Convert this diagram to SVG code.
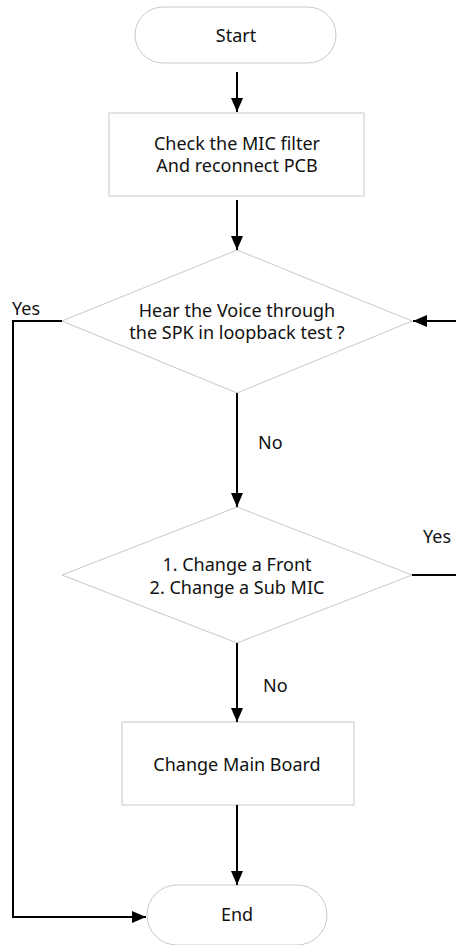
<svg xmlns="http://www.w3.org/2000/svg" width="456" height="945" viewBox="0 0 456 945">
<style>
.shape{fill:#fff;stroke:#c8c8c8;stroke-width:1}
.t{font-family:"Noto Sans","Open Sans",sans-serif;font-size:18px;fill:#111;text-anchor:middle}
.l{font-family:"Noto Sans","Open Sans",sans-serif;font-size:18px;fill:#111}
.c{fill:none;stroke:#000;stroke-width:2}
</style>
<defs>
<marker id="ah" markerWidth="14" markerHeight="14" viewBox="0 0 14 14" refX="14" refY="7" orient="auto" markerUnits="userSpaceOnUse">
<path d="M0,1 L14,7 L0,13 Z" fill="#000"/>
</marker>
</defs>
<rect width="456" height="945" fill="#fff"/>
<g id="start"><rect class="shape" x="135" y="7" width="201" height="56" rx="28"/><text class="t" x="236" y="42">Start</text></g>
<g id="check"><rect class="shape" x="109" y="113" width="255" height="83"/><text class="t" x="237" y="150">Check the MIC filter</text><text class="t" x="237" y="172">And reconnect PCB</text></g>
<g id="hear"><polygon class="shape" points="237,250 412,321 237,393 62,321"/><text class="t" x="237" y="317">Hear the Voice through</text><text class="t" x="237" y="339">the SPK in loopback test ?</text></g>
<g id="change"><polygon class="shape" points="237,507 412,575 237,643 62,575"/><text class="t" x="237" y="571">1. Change a Front</text><text class="t" x="237" y="594">2. Change a Sub MIC</text></g>
<g id="mainboard"><rect class="shape" x="122" y="722" width="232" height="83"/><text class="t" x="237" y="771">Change Main Board</text></g>
<g id="end"><rect class="shape" x="147" y="885" width="180" height="60" rx="30"/><text class="t" x="237" y="921">End</text></g>
<g id="connectors">
<line class="c" x1="237" y1="72" x2="237" y2="112" marker-end="url(#ah)"/>
<line class="c" x1="237" y1="200" x2="237" y2="250" marker-end="url(#ah)"/>
<line class="c" x1="237" y1="393" x2="237" y2="507" marker-end="url(#ah)"/>
<line class="c" x1="237" y1="643" x2="237" y2="722" marker-end="url(#ah)"/>
<line class="c" x1="237" y1="805" x2="237" y2="885" marker-end="url(#ah)"/>
<polyline class="c" points="62,321 13,321 13,917 146,917" marker-end="url(#ah)"/>
<line class="c" x1="456" y1="321" x2="413" y2="321" marker-end="url(#ah)"/>
<line class="c" x1="412" y1="575" x2="456" y2="575"/>
<text class="l" x="12" y="315">Yes</text>
<text class="l" x="258" y="449">No</text>
<text class="l" x="423" y="543">Yes</text>
<text class="l" x="263" y="692">No</text>
</g>
</svg>
